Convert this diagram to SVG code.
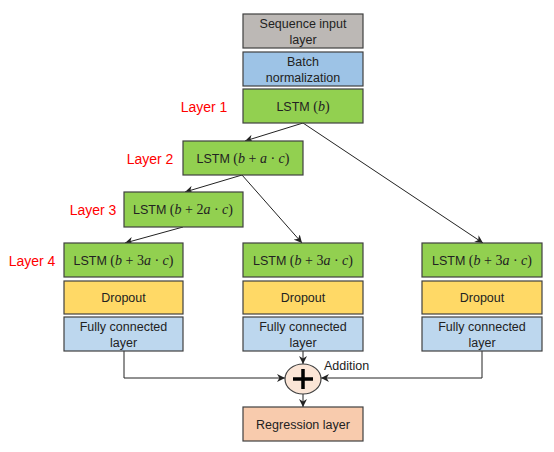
<svg xmlns="http://www.w3.org/2000/svg" width="554" height="452" viewBox="0 0 554 452">
<defs>
<marker id="ah" viewBox="0 0 10 10" refX="10" refY="5" markerWidth="8" markerHeight="8" orient="auto-start-reverse" markerUnits="userSpaceOnUse">
<path d="M0,0 L10,5 L0,10 L3,5 Z" fill="#222"/>
</marker>
<style>
.b{stroke:#404040;stroke-width:1.2}
.t{font-family:"Liberation Sans",Arial,sans-serif;font-size:12.5px;fill:#222;text-anchor:middle}
.m{font-family:"Liberation Serif","Times New Roman",serif;font-style:italic;font-size:14px}
.n{font-family:"Liberation Serif","Times New Roman",serif;font-size:14px}
.lab{font-family:"Liberation Sans",Arial,sans-serif;font-size:14px;fill:#ff0000;text-anchor:middle}
.c{fill:none;stroke:#222;stroke-width:1}
.gray{fill:#bcb8b5}.blue{fill:#9dc3e6}.green{fill:#92d050}.yellow{fill:#ffd966}.lblue{fill:#bdd7ee}.peach{fill:#f8cbad}
</style>
</defs>
<rect width="554" height="452" fill="#fff"/>

<g id="connectors">
<path class="c" d="M303,123 L245,141" marker-end="url(#ah)"/>
<path class="c" d="M303,123 L483,243" marker-end="url(#ah)"/>
<path class="c" d="M242,175 L185,192" marker-end="url(#ah)"/>
<path class="c" d="M242,175 L302,243" marker-end="url(#ah)"/>
<path class="c" d="M183,227 L125,243" marker-end="url(#ah)"/>
<path class="c" d="M124,351 L124,378 L285,378" marker-end="url(#ah)"/>
<path class="c" d="M482,351 L482,378 L321,378" marker-end="url(#ah)"/>
<path class="c" d="M303,351 L303,364" marker-end="url(#ah)"/>
<path class="c" d="M303,394 L303,407" marker-end="url(#ah)"/>
</g>

<g id="labels">
<text class="lab" x="204" y="112">Layer 1</text>
<text class="lab" x="150" y="164">Layer 2</text>
<text class="lab" x="93" y="215">Layer 3</text>
<text class="lab" x="32" y="266">Layer 4</text>
</g>

<g id="seq_input"><rect class="b gray" x="243" y="14" width="120" height="34"/><text class="t" x="303" y="28">Sequence input</text><text class="t" x="303" y="44">layer</text></g>
<g id="batch_norm"><rect class="b blue" x="243" y="52" width="120" height="34"/><text class="t" x="303" y="66">Batch</text><text class="t" x="303" y="82">normalization</text></g>
<g id="lstm1"><rect class="b green" x="243" y="89" width="120" height="34"/><text class="t" x="303" y="111">LSTM <tspan class="n">(</tspan><tspan class="m">b</tspan><tspan class="n">)</tspan></text></g>
<g id="lstm2"><rect class="b green" x="183" y="141" width="120" height="34"/><text class="t" x="243" y="163">LSTM <tspan class="n">(</tspan><tspan class="m">b</tspan><tspan class="n"> + </tspan><tspan class="m">a</tspan><tspan class="n"> · </tspan><tspan class="m">c</tspan><tspan class="n">)</tspan></text></g>
<g id="lstm3"><rect class="b green" x="124" y="192" width="119" height="35"/><text class="t" x="183" y="214">LSTM <tspan class="n">(</tspan><tspan class="m">b</tspan><tspan class="n"> + 2</tspan><tspan class="m">a</tspan><tspan class="n"> · </tspan><tspan class="m">c</tspan><tspan class="n">)</tspan></text></g>

<g id="lstm4a"><rect class="b green" x="64" y="243" width="119" height="34"/><text class="t" x="123.5" y="265">LSTM <tspan class="n">(</tspan><tspan class="m">b</tspan><tspan class="n"> + 3</tspan><tspan class="m">a</tspan><tspan class="n"> · </tspan><tspan class="m">c</tspan><tspan class="n">)</tspan></text></g>
<g id="dropout_a"><rect class="b yellow" x="64" y="281" width="119" height="33"/><text class="t" x="123.5" y="302">Dropout</text></g>
<g id="fc_a"><rect class="b lblue" x="64" y="317" width="119" height="34"/><text class="t" x="123.5" y="331">Fully connected</text><text class="t" x="123.5" y="347">layer</text></g>

<g id="lstm4b"><rect class="b green" x="243" y="243" width="120" height="34"/><text class="t" x="303" y="265">LSTM <tspan class="n">(</tspan><tspan class="m">b</tspan><tspan class="n"> + 3</tspan><tspan class="m">a</tspan><tspan class="n"> · </tspan><tspan class="m">c</tspan><tspan class="n">)</tspan></text></g>
<g id="dropout_b"><rect class="b yellow" x="243" y="281" width="120" height="33"/><text class="t" x="303" y="302">Dropout</text></g>
<g id="fc_b"><rect class="b lblue" x="243" y="317" width="120" height="34"/><text class="t" x="303" y="331">Fully connected</text><text class="t" x="303" y="347">layer</text></g>

<g id="lstm4c"><rect class="b green" x="422" y="243" width="120" height="34"/><text class="t" x="482" y="265">LSTM <tspan class="n">(</tspan><tspan class="m">b</tspan><tspan class="n"> + 3</tspan><tspan class="m">a</tspan><tspan class="n"> · </tspan><tspan class="m">c</tspan><tspan class="n">)</tspan></text></g>
<g id="dropout_c"><rect class="b yellow" x="422" y="281" width="120" height="33"/><text class="t" x="482" y="302">Dropout</text></g>
<g id="fc_c"><rect class="b lblue" x="422" y="317" width="120" height="34"/><text class="t" x="482" y="331">Fully connected</text><text class="t" x="482" y="347">layer</text></g>

<g id="addition">
<ellipse cx="303" cy="379" rx="18" ry="15" fill="#fbe5d6" stroke="#404040" stroke-width="1.2"/>
<path d="M293,379 H313 M303,369 V389" stroke="#000" stroke-width="3.5" fill="none"/>
<text x="324" y="370" style="font-family:'Liberation Sans',Arial,sans-serif;font-size:12.5px;fill:#222">Addition</text>
</g>

<g id="regression"><rect class="b peach" x="243" y="407" width="120" height="34"/><text class="t" x="303" y="429">Regression layer</text></g>
</svg>
